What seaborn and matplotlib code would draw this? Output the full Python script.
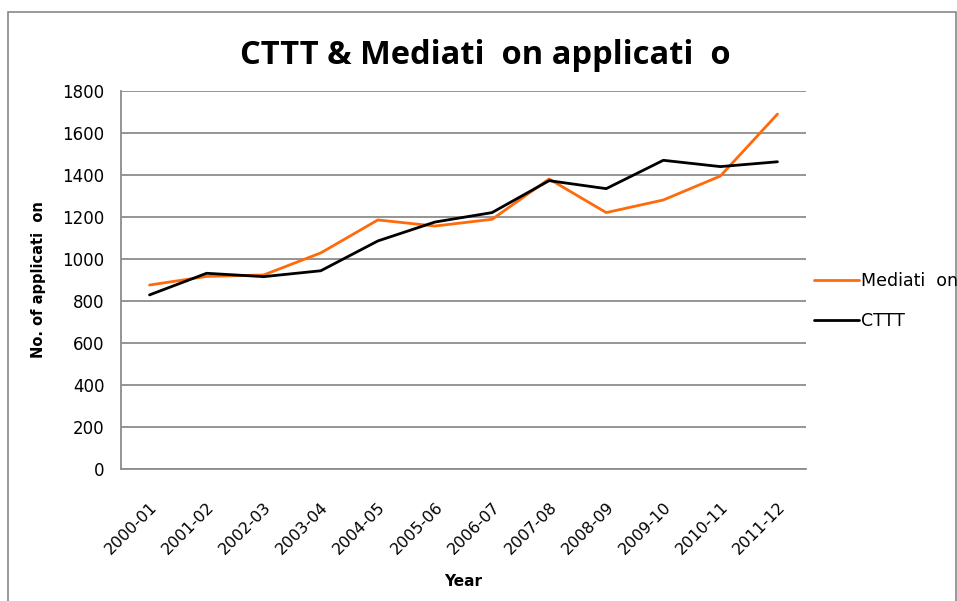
import matplotlib
matplotlib.use("Agg")
import matplotlib.pyplot as plt
import seaborn as sns
import pandas as pd
from matplotlib.patches import Rectangle
from matplotlib.lines import Line2D

years = ["2000-01", "2001-02", "2002-03", "2003-04", "2004-05", "2005-06",
         "2006-07", "2007-08", "2008-09", "2009-10", "2010-11", "2011-12"]
mediation = [876, 917, 924, 1029, 1186, 1157, 1189, 1381, 1221, 1281, 1395, 1690]
cttt = [829, 932, 916, 944, 1086, 1176, 1221, 1373, 1335, 1470, 1440, 1463]
series_names = ["Mediati  on", "CTTT"]
yticks = [0, 200, 400, 600, 800, 1000, 1200, 1400, 1600, 1800]

df = pd.DataFrame({
    "Year": years * 2,
    "idx": list(range(len(years))) * 2,
    "value": mediation + cttt,
    "series": [series_names[0]] * len(years) + [series_names[1]] * len(years),
})

sns.set_style("white")
plt.rcParams["font.family"] = ["DejaVu Sans"]
for k in ["text.color", "axes.labelcolor", "xtick.color", "ytick.color"]:
    plt.rcParams[k] = "black"

W, H = 957, 601
fig = plt.figure(figsize=(W / 100, H / 100), dpi=100)
ax = fig.add_axes([121 / W, (H - 469) / H, 685 / W, 378 / H])

# outer chart border
fig.patches.append(Rectangle((8 / W, -0.05), (956 - 8) / W, (H - 12) / H + 0.05,
                             transform=fig.transFigure, fill=False,
                             edgecolor="#888888", linewidth=1.2))

colors = {series_names[0]: "#FF6A0A", series_names[1]: "#000000"}
sns.lineplot(data=df, x="idx", y="value", hue="series", sort=False,
             palette=colors, linewidth=2.0, ax=ax, legend=False)

ax.set_xlim(-0.5, len(years) - 0.5)
ax.set_ylim(0, 1800)
ax.set_yticks(yticks)
ax.set_yticklabels([str(v) for v in yticks], fontsize=12)
ax.set_xticks(range(len(years)))
ax.set_xticklabels(years, rotation=45, ha="right", rotation_mode="anchor", fontsize=11.5)
ax.tick_params(axis="x", length=0, pad=22)
ax.tick_params(axis="y", length=0, pad=12)

ax.grid(axis="y", color="#8c8c8c", linewidth=1.3)
ax.set_axisbelow(True)
for s in ["top", "right"]:
    ax.spines[s].set_visible(False)
for s in ["left", "bottom"]:
    ax.spines[s].set_color("#8c8c8c")
    ax.spines[s].set_linewidth(1.3)

ax.set_xlabel("Year", fontsize=11, fontweight="bold")
ax.set_ylabel("No. of applicati  on", fontsize=10.5, fontweight="bold")
ax.xaxis.set_label_coords(0.5, -(574 - 469) / 378)
ax.yaxis.set_label_coords(-(121 - 46) / 685, (469 - 280) / 378)

fig.text(485 / W, 1 - 55 / H, "CTTT & Mediati  on applicati  o",
         fontsize=23.5, fontweight="bold", family=["Open Sans", "DejaVu Sans"],
         ha="center", va="center")

handles = [Line2D([], [], color=colors[n], lw=2.0) for n in series_names]
fig.legend(handles, series_names, loc="center left",
           bbox_to_anchor=(798 / W, 1 - 301 / H), frameon=False,
           fontsize=12.5, handlelength=2.6, handletextpad=0.15, labelspacing=1.25)

fig.savefig("out.png", dpi=100)
